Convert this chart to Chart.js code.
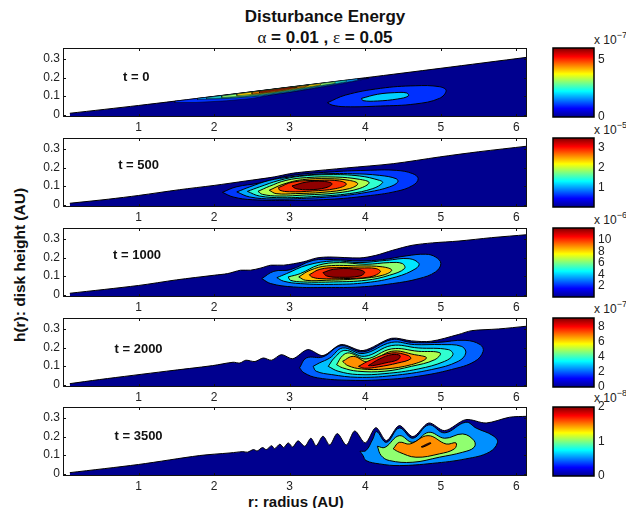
<!DOCTYPE html>
<html>
<head>
<meta charset="utf-8">
<title>Disturbance Energy</title>
<script src="https://cdn.jsdelivr.net/npm/chart.js@4"></script>
<style>
    html, body { margin: 0; padding: 0; background: #fff; }
    body { position: relative; width: 626px; height: 508px; overflow: hidden; font-family: "Liberation Sans", Arial, sans-serif; color: #111; }
    canvas { position: absolute; }
    .txt { position: absolute; white-space: nowrap; }
    .title { left: 225px; width: 200px; text-align: center; font-weight: bold; font-size: 17px; line-height: 20px; }
    .greek { font-family: "Liberation Serif", serif; font-weight: normal; }
    .axis { font-weight: bold; font-size: 15.5px; line-height: 18px; }
    .exp { left: 594px; font-size: 12px; line-height: 14px; color: #222; }
    .exp sup { font-size: 9px; line-height: 0; position: relative; top: -1px; vertical-align: super; }
</style>
</head>
<body>
<div class="txt title" style="top:7px">Disturbance Energy</div>
<div class="txt title" style="top:28px"><span class="greek">α</span> = 0.01 , <span class="greek">ε</span> = 0.05</div>
<div class="txt axis" style="left:248px;top:493px;font-size:15px">r: radius (AU)</div>
<div class="txt axis" style="left:20px;top:265px;transform:translate(-50%,-50%) rotate(-90deg)">h(r): disk height (AU)</div>
<div class="txt exp" style="top:33px">x 10<sup>−7</sup></div>
<div class="txt exp" style="top:123px">x 10<sup>−5</sup></div>
<div class="txt exp" style="top:213px">x 10<sup>−6</sup></div>
<div class="txt exp" style="top:302px">x 10<sup>−7</sup></div>
<div class="txt exp" style="top:391px">x 10<sup>−8</sup></div>

<script>
const radiusTicks = [1, 2, 3, 4, 5, 6];
const heightTicks = [0, 0.1, 0.2, 0.3];
const timeLabels = ["t = 0", "t = 500", "t = 1000", "t = 2000", "t = 3500"];
const labelSpots = [[0.97, 0.2], [1.0, 0.212], [0.98, 0.212], [1.0, 0.192], [1.0, 0.203]];

// disk surface per panel
const surfaceR0 = [0.09, 1, 2, 3, 4, 5, 6.14];
const surfaceH0 = [0.008, 0.05, 0.099, 0.149, 0.199, 0.25, 0.309];
const surfaceR1 = [0.09, 0.6, 1, 1.54, 2, 2.42, 2.8, 3, 3.2, 3.75, 4.37, 4.98, 5.5, 6.14];
const surfaceH1 = [0.008, 0.03, 0.05, 0.081, 0.104, 0.128, 0.15, 0.167, 0.177, 0.198, 0.221, 0.257, 0.285, 0.315];
const surfaceR2 = [0.09, 1, 1.5, 2, 2.18, 2.35, 2.48, 2.62, 2.75, 2.92, 3.18, 3.36, 3.53, 3.93, 4.14, 4.36, 4.62, 4.89, 5.24, 5.67, 6.14];
const surfaceH2 = [0.008, 0.05, 0.08, 0.105, 0.114, 0.132, 0.132, 0.144, 0.159, 0.159, 0.177, 0.198, 0.203, 0.198, 0.212, 0.239, 0.266, 0.279, 0.289, 0.307, 0.323];
const surfaceR3 = [0.09, 0.485, 1.37, 1.98, 2.25, 2.34, 2.42, 2.54, 2.65, 2.76, 2.89, 3.04, 3.24, 3.44, 3.68, 3.97, 4.35, 4.61, 4.87, 5.23, 5.41, 5.76, 6.14];
const surfaceH3 = [0.006, 0.028, 0.073, 0.103, 0.121, 0.117, 0.132, 0.125, 0.144, 0.132, 0.162, 0.14, 0.189, 0.157, 0.216, 0.184, 0.25, 0.236, 0.234, 0.27, 0.291, 0.3, 0.315];
const surfaceR4 = [0.09, 1, 1.81, 2.21, 2.3, 2.38, 2.44, 2.52, 2.57, 2.64, 2.69, 2.76, 2.8, 2.87, 2.92, 2.98, 3.04, 3.11, 3.2, 3.28, 3.35, 3.44, 3.53, 3.63, 3.75, 3.86, 4, 4.14, 4.28, 4.45, 4.63, 4.84, 5.05, 5.33, 5.6, 5.91, 6.14];
const surfaceH4 = [0.006, 0.05, 0.098, 0.112, 0.116, 0.119, 0.116, 0.13, 0.123, 0.141, 0.13, 0.151, 0.135, 0.159, 0.141, 0.166, 0.144, 0.177, 0.148, 0.191, 0.151, 0.202, 0.155, 0.216, 0.155, 0.23, 0.166, 0.248, 0.178, 0.259, 0.2, 0.273, 0.232, 0.291, 0.273, 0.304, 0.309];

// contour outlines as [r, h], outermost first
const contours0 = [
    [[1.48, 0.066], [1.76, 0.066], [2.16, 0.075], [2.51, 0.088], [2.82, 0.111], [3.13, 0.129], [3.4, 0.147], [3.7, 0.167], [4.05, 0.197], [3.4, 0.167], [2.4, 0.118], [1.48, 0.073]],
    [[1.78, 0.082], [2.2, 0.088], [2.6, 0.1], [3, 0.122], [3.4, 0.15], [3.9, 0.186], [3.9, 0.193], [3, 0.148], [2.2, 0.108], [1.78, 0.088]],
    [[1.9, 0.087], [2.2, 0.092], [2.6, 0.104], [3, 0.126], [3.4, 0.154], [3.75, 0.178], [3.75, 0.185], [3, 0.149], [2.2, 0.108], [1.9, 0.092]],
    [[2.1, 0.093], [2.4, 0.1], [2.7, 0.113], [3, 0.13], [3.4, 0.157], [3.6, 0.169], [3.6, 0.177], [3, 0.148], [2.4, 0.117], [2.1, 0.101]],
    [[2.3, 0.103], [2.6, 0.112], [3, 0.134], [3.4, 0.16], [3.42, 0.168], [3, 0.147], [2.6, 0.127], [2.3, 0.111]],
    [[2.5, 0.112], [2.8, 0.124], [3.2, 0.15], [3.25, 0.158], [2.8, 0.136], [2.5, 0.12]],
    [[2.6, 0.118], [2.9, 0.134], [3.1, 0.148], [3, 0.146], [2.8, 0.134], [2.6, 0.124]],
    [[3.5, 0.065], [3.74, 0.106], [4.2, 0.142], [4.66, 0.156], [4.98, 0.151], [5.07, 0.13], [4.98, 0.088], [4.66, 0.058], [4.2, 0.047], [3.74, 0.043], [3.56, 0.052]],
    [[3.95, 0.088], [4.16, 0.11], [4.39, 0.119], [4.55, 0.117], [4.57, 0.101], [4.43, 0.085], [4.16, 0.074], [3.97, 0.076]]
];
const colors0 = ["#0030ff", "#00a0ff", "#20e8e0", "#90ff70", "#ffd800", "#ff8000", "#e02000", "#0030ff", "#00d0ff"];
const tensions0 = [0, 0, 0, 0, 0, 0, 0, 0.4, 0.4];

const contours1 = [
    [[2.11, 0.067], [2.29, 0.096], [2.6, 0.117], [3, 0.156], [3.52, 0.176], [4.01, 0.185], [4.41, 0.185], [4.63, 0.167], [4.7, 0.14], [4.63, 0.104], [4.41, 0.072], [4.01, 0.047], [3.52, 0.029], [3, 0.024], [2.51, 0.027], [2.25, 0.042]],
    [[2.3, 0.069], [2.47, 0.096], [2.73, 0.131], [3, 0.149], [3.39, 0.165], [3.83, 0.167], [4.19, 0.158], [4.41, 0.14], [4.43, 0.122], [4.32, 0.096], [4.05, 0.069], [3.66, 0.047], [3.22, 0.035], [2.78, 0.031], [2.47, 0.042]],
    [[2.44, 0.072], [2.6, 0.096], [2.86, 0.131], [3.13, 0.153], [3.52, 0.162], [3.92, 0.155], [4.19, 0.131], [4.23, 0.119], [4.1, 0.087], [3.79, 0.06], [3.35, 0.045], [2.91, 0.038], [2.6, 0.047]],
    [[2.58, 0.072], [2.73, 0.099], [2.95, 0.131], [3.22, 0.146], [3.61, 0.149], [3.92, 0.137], [4.05, 0.119], [3.92, 0.087], [3.61, 0.063], [3.22, 0.053], [2.86, 0.047], [2.64, 0.056]],
    [[2.73, 0.078], [2.91, 0.11], [3.17, 0.135], [3.52, 0.14], [3.79, 0.131], [3.9, 0.113], [3.79, 0.087], [3.44, 0.067], [3.08, 0.06], [2.82, 0.06]],
    [[2.85, 0.092], [3.04, 0.122], [3.39, 0.131], [3.66, 0.128], [3.75, 0.11], [3.61, 0.087], [3.3, 0.074], [3, 0.07], [2.87, 0.078]],
    [[3.03, 0.101], [3.22, 0.122], [3.44, 0.126], [3.56, 0.113], [3.48, 0.092], [3.26, 0.081], [3.08, 0.087]]
];
const colors1 = ["#0038ff", "#00aaff", "#30ffd0", "#b0ff50", "#ffb000", "#ff3000", "#900000"];

const contours2 = [
    [[2.63, 0.087], [2.79, 0.126], [3.01, 0.135], [3.31, 0.185], [3.58, 0.189], [3.93, 0.182], [4.23, 0.189], [4.54, 0.209], [4.8, 0.218], [4.93, 0.203], [5, 0.168], [4.93, 0.123], [4.71, 0.087], [4.36, 0.06], [3.93, 0.042], [3.49, 0.039], [3.05, 0.042], [2.75, 0.06]],
    [[2.83, 0.092], [2.96, 0.114], [3.23, 0.159], [3.58, 0.182], [3.93, 0.173], [4.28, 0.185], [4.58, 0.194], [4.71, 0.168], [4.67, 0.141], [4.41, 0.096], [4.01, 0.065], [3.58, 0.056], [3.14, 0.06], [2.92, 0.073]],
    [[2.98, 0.096], [3.14, 0.114], [3.38, 0.159], [3.66, 0.173], [4.01, 0.164], [4.32, 0.173], [4.49, 0.168], [4.52, 0.141], [4.32, 0.105], [4.01, 0.078], [3.58, 0.069], [3.18, 0.069], [3.01, 0.078]],
    [[3.12, 0.096], [3.27, 0.132], [3.49, 0.155], [3.93, 0.155], [4.23, 0.15], [4.35, 0.132], [4.23, 0.105], [3.93, 0.087], [3.49, 0.078], [3.21, 0.078]],
    [[3.26, 0.108], [3.4, 0.137], [3.62, 0.146], [3.93, 0.144], [4.14, 0.141], [4.2, 0.123], [4.06, 0.096], [3.71, 0.087], [3.4, 0.087], [3.29, 0.096]],
    [[3.44, 0.119], [3.58, 0.137], [3.84, 0.139], [3.99, 0.123], [3.93, 0.101], [3.66, 0.094], [3.49, 0.101]]
];
const colors2 = ["#0070ff", "#00e8ff", "#90ff70", "#ffc000", "#ff3000", "#8f0000"];

const contours3 = [
    [[3.13, 0.091], [3.22, 0.144], [3.44, 0.15], [3.68, 0.21], [3.97, 0.177], [4.35, 0.243], [4.61, 0.228], [4.96, 0.228], [5.32, 0.239], [5.52, 0.216], [5.56, 0.18], [5.45, 0.126], [5.14, 0.082], [4.7, 0.046], [4.26, 0.028], [3.81, 0.024], [3.37, 0.037], [3.19, 0.064]],
    [[3.31, 0.099], [3.39, 0.117], [3.53, 0.144], [3.7, 0.198], [3.97, 0.168], [4.35, 0.228], [4.65, 0.216], [5.01, 0.216], [5.27, 0.207], [5.33, 0.171], [5.23, 0.126], [4.88, 0.082], [4.35, 0.049], [3.9, 0.04], [3.55, 0.055], [3.35, 0.073]],
    [[3.51, 0.099], [3.59, 0.144], [3.73, 0.185], [3.99, 0.153], [4.35, 0.211], [4.7, 0.198], [5.1, 0.189], [5.16, 0.162], [5.05, 0.126], [4.7, 0.085], [4.26, 0.06], [3.9, 0.055], [3.64, 0.073]],
    [[3.62, 0.108], [3.7, 0.157], [3.79, 0.171], [4.01, 0.139], [4.35, 0.193], [4.7, 0.18], [4.99, 0.171], [4.92, 0.135], [4.61, 0.099], [4.26, 0.073], [3.9, 0.073], [3.7, 0.091]],
    [[3.7, 0.126], [3.84, 0.153], [4.04, 0.123], [4.35, 0.18], [4.65, 0.162], [4.81, 0.144], [4.61, 0.108], [4.26, 0.085], [3.95, 0.085], [3.77, 0.103]],
    [[3.91, 0.099], [4.08, 0.135], [4.35, 0.171], [4.57, 0.157], [4.6, 0.139], [4.43, 0.117], [4.17, 0.096], [3.99, 0.089]],
    [[4.04, 0.103], [4.19, 0.139], [4.35, 0.162], [4.46, 0.157], [4.43, 0.135], [4.26, 0.117], [4.1, 0.103]]
];
const colors3 = ["#0060ff", "#00c0ff", "#30ffd0", "#b0ff50", "#ff9000", "#ff2000", "#900000"];

const contours4 = [
    [[3.93, 0.121], [4.01, 0.125], [4.1, 0.187], [4.15, 0.227], [4.28, 0.169], [4.45, 0.246], [4.63, 0.191], [4.84, 0.263], [5.05, 0.22], [5.33, 0.277], [5.47, 0.245], [5.69, 0.205], [5.75, 0.169], [5.64, 0.116], [5.33, 0.08], [4.89, 0.056], [4.45, 0.044], [4.19, 0.053], [4.01, 0.071], [3.97, 0.098]],
    [[4.16, 0.148], [4.26, 0.142], [4.45, 0.205], [4.63, 0.169], [4.84, 0.223], [5.05, 0.191], [5.29, 0.214], [5.44, 0.178], [5.44, 0.142], [5.29, 0.116], [4.98, 0.089], [4.63, 0.062], [4.32, 0.071], [4.21, 0.098]],
    [[4.37, 0.134], [4.45, 0.169], [4.59, 0.16], [4.83, 0.205], [5.07, 0.16], [5.2, 0.166], [5.18, 0.134], [4.98, 0.107], [4.67, 0.089], [4.45, 0.116]],
    [[4.74, 0.145], [4.85, 0.166], [4.87, 0.164], [4.76, 0.143]]
];
const colors4 = ["#0090ff", "#90ff70", "#ff9000", "#600000"];

// colorbars
const barTops = [6.05, 3.5, 12.1, 9.2, 2];
const barTicks = [[0, 5], [1, 2, 3], [2, 4, 6, 8, 10], [0, 2, 4, 6, 8], [0, 1, 2]];
const jetStops = [[0, "#00008f"], [0.125, "#0000ff"], [0.375, "#00ffff"], [0.625, "#ffff00"], [0.875, "#ff0000"], [1, "#800000"]];

const panelTops = [48, 138, 228, 318, 407];
const plotHeight = 69;
const navy = "#00008f";

function addCanvas(left, top, width, height) {
    const canvas = document.createElement("canvas");
    canvas.width = width;
    canvas.height = height;
    canvas.style.left = left + "px";
    canvas.style.top = top + "px";
    canvas.style.width = width + "px";
    canvas.style.height = height + "px";
    document.body.appendChild(canvas);
    return canvas;
}

// tick labels must not eat into the plot box
function clearAxisPadding(axis) {
    axis.paddingTop = 0;
    axis.paddingBottom = 0;
    axis.paddingLeft = 0;
    axis.paddingRight = 0;
}

// MATLAB style box with inward ticks
const boxPlugin = {
    id: "box",
    afterDatasetsDraw(chart) {
        const { ctx, chartArea: a, scales } = chart;
        ctx.save();
        ctx.strokeStyle = "#111";
        ctx.lineWidth = 1;
        ctx.strokeRect(a.left + 0.5, a.top + 0.5, a.width - 1, a.height - 1);
        ctx.beginPath();
        radiusTicks.forEach(v => {
            const x = Math.round(scales.x.getPixelForValue(v)) + 0.5;
            ctx.moveTo(x, a.top);
            ctx.lineTo(x, a.top + 3);
            ctx.moveTo(x, a.bottom);
            ctx.lineTo(x, a.bottom - 3);
        });
        heightTicks.forEach(v => {
            const y = Math.round(scales.y.getPixelForValue(v)) + 0.5;
            ctx.moveTo(a.left, y);
            ctx.lineTo(a.left + 3, y);
            ctx.moveTo(a.right, y);
            ctx.lineTo(a.right - 3, y);
        });
        ctx.stroke();
        const spot = chart.options.plugins.box.spot;
        ctx.fillStyle = "#111";
        ctx.font = "bold 13px 'Liberation Sans'";
        ctx.textAlign = "center";
        ctx.textBaseline = "middle";
        ctx.fillText(chart.options.plugins.box.label, scales.x.getPixelForValue(spot[0]), scales.y.getPixelForValue(spot[1]));
        ctx.restore();
    }
};

function drawPanel(index, surfaceR, surfaceH, contours, colors, tensions) {
    const canvas = addCanvas(0, panelTops[index] - 2, 540, plotHeight + 24);
    const datasets = [{
        data: surfaceR.map((r, i) => ({ x: r, y: surfaceH[i] })),
        borderColor: "#000",
        borderWidth: 1,
        backgroundColor: navy,
        fill: "start",
        tension: 0.3,
        order: contours.length + 1
    }];
    contours.forEach((contour, i) => {
        const closed = contour.concat([contour[0]]);
        const sliver = tensions && tensions[i] === 0;
        datasets.push({
            data: closed.map(p => ({ x: p[0], y: p[1] })),
            borderColor: "#000",
            borderWidth: sliver ? 0.5 : 1,
            backgroundColor: colors[i],
            fill: "shape",
            tension: tensions ? tensions[i] : 0.4,
            order: contours.length - i
        });
    });
    new Chart(canvas, {
        type: "scatter",
        data: { datasets: datasets },
        plugins: [boxPlugin],
        options: {
            responsive: false,
            animation: false,
            devicePixelRatio: 1,
            showLine: true,
            layout: { autoPadding: false, padding: { top: 2, right: 13, left: 0, bottom: 0 } },
            elements: { point: { radius: 0 } },
            plugins: {
                legend: { display: false },
                tooltip: { enabled: false },
                box: { label: timeLabels[index], spot: labelSpots[index] }
            },
            scales: {
                x: {
                    type: "linear",
                    min: 0,
                    max: 6.14,
                    grid: { display: false, drawTicks: false },
                    border: { display: false },
                    afterBuildTicks: axis => { axis.ticks = radiusTicks.map(v => ({ value: v })); },
                    afterFit: axis => { axis.height = 22; clearAxisPadding(axis); },
                    ticks: { color: "#222", font: { family: "Liberation Sans", size: 12 }, padding: 3, maxRotation: 0, autoSkip: false }
                },
                y: {
                    type: "linear",
                    min: -0.012,
                    max: 0.359,
                    grid: { display: false, drawTicks: false },
                    border: { display: false },
                    afterBuildTicks: axis => { axis.ticks = heightTicks.map(v => ({ value: v })); },
                    afterFit: axis => { axis.width = 63; clearAxisPadding(axis); },
                    ticks: { color: "#222", font: { family: "Liberation Sans", size: 12 }, padding: 3, autoSkip: false }
                }
            }
        }
    });
}

function drawColorbar(index) {
    const canvas = addCanvas(548, panelTops[index] - 8, 78, plotHeight + 16);
    new Chart(canvas, {
        type: "bar",
        data: {
            labels: [""],
            datasets: [{
                data: [[0, barTops[index]]],
                barPercentage: 1,
                categoryPercentage: 1,
                backgroundColor: context => {
                    const area = context.chart.chartArea;
                    if (!area) return navy;
                    const gradient = context.chart.ctx.createLinearGradient(0, area.bottom, 0, area.top);
                    jetStops.forEach(s => gradient.addColorStop(s[0], s[1]));
                    return gradient;
                }
            }]
        },
        plugins: [{
            id: "barBox",
            afterDatasetsDraw(chart) {
                const { ctx, chartArea: a } = chart;
                ctx.save();
                ctx.strokeStyle = "#000";
                ctx.lineWidth = 1.5;
                ctx.strokeRect(a.left, a.top, a.width, a.height);
                ctx.restore();
            }
        }],
        options: {
            responsive: false,
            animation: false,
            devicePixelRatio: 1,
            layout: { autoPadding: false, padding: { top: 8, bottom: 8, left: 5, right: 0 } },
            plugins: { legend: { display: false }, tooltip: { enabled: false } },
            scales: {
                x: { display: false },
                y: {
                    position: "right",
                    min: 0,
                    max: barTops[index],
                    grid: { display: false, drawTicks: false },
                    border: { display: false },
                    afterBuildTicks: axis => { axis.ticks = barTicks[index].map(v => ({ value: v })); },
                    afterFit: axis => { axis.width = 32; clearAxisPadding(axis); },
                    ticks: { color: "#222", font: { family: "Liberation Sans", size: 12 }, padding: 4, autoSkip: false }
                }
            }
        }
    });
}

drawPanel(0, surfaceR0, surfaceH0, contours0, colors0, tensions0);
drawPanel(1, surfaceR1, surfaceH1, contours1, colors1);
drawPanel(2, surfaceR2, surfaceH2, contours2, colors2);
drawPanel(3, surfaceR3, surfaceH3, contours3, colors3);
drawPanel(4, surfaceR4, surfaceH4, contours4, colors4);
for (let i = 0; i < 5; i++) drawColorbar(i);
</script>
</body>
</html>
